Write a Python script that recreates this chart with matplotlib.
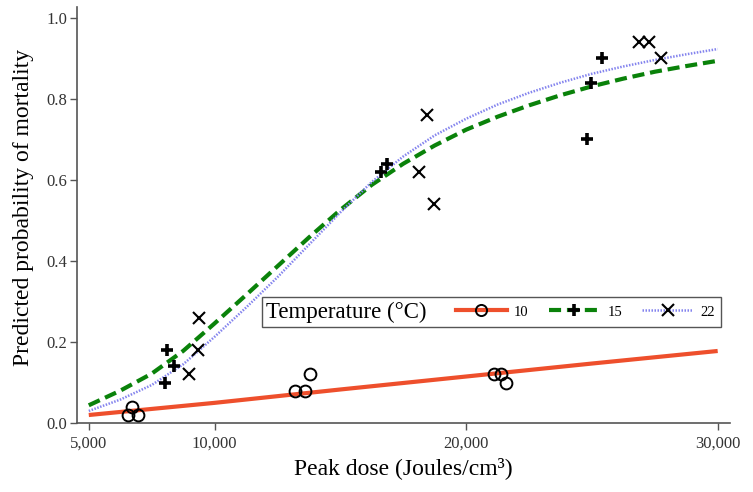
import numpy as np
import matplotlib
matplotlib.use('Agg')
import matplotlib.pyplot as plt
from matplotlib.lines import Line2D
from matplotlib.patches import Rectangle

plt.rcParams['font.family'] = ['Liberation Serif', 'DejaVu Serif']

# observed mortality points per temperature
dose_10 = [6550, 6700, 6950, 13200, 13600, 13800, 21100, 21400, 21600]
mort_10 = [0.02, 0.04, 0.02, 0.08, 0.08, 0.12, 0.12, 0.12, 0.10]
dose_15 = [8020, 8100, 8370, 16620, 16860, 24800, 24960, 25400]
mort_15 = [0.10, 0.18, 0.14, 0.62, 0.64, 0.70, 0.84, 0.90]
dose_22 = [9000, 9360, 9400, 18130, 18450, 18730, 26870, 27260, 27750]
mort_22 = [0.12, 0.18, 0.26, 0.62, 0.76, 0.54, 0.94, 0.94, 0.90]

# predicted curves
fit_dose_10 = [5000, 10000, 15000, 20000, 25000, 30000]
fit_10 = [0.020, 0.050, 0.083, 0.115, 0.147, 0.178]
fit_dose = [5000, 6250, 7500, 8750, 10000, 11250, 12500, 13750, 15000, 16250,
            17500, 18750, 20000, 21250, 22500, 23750, 25000, 26250, 27500,
            28750, 30000]
fit_15 = [0.044, 0.080, 0.122, 0.178, 0.246, 0.316, 0.387, 0.458, 0.526, 0.588,
          0.640, 0.685, 0.724, 0.756, 0.784, 0.809, 0.831, 0.850, 0.867,
          0.881, 0.894]
fit_22 = [0.030, 0.058, 0.094, 0.145, 0.213, 0.285, 0.360, 0.440, 0.520, 0.595,
          0.658, 0.710, 0.751, 0.786, 0.815, 0.840, 0.862, 0.880, 0.896,
          0.910, 0.923]

x_ticks = [5000, 10000, 20000, 30000]
x_ticklabels = ['5,000', '10,000', '20,000', '30,000']
y_ticks = [0.0, 0.2, 0.4, 0.6, 0.8, 1.0]

red = '#ee4f2c'
green = '#0a820a'
blue = '#8484ee'
dash_15 = (0, (2.9, 1.4))
dot_22 = (0, (0.6, 0.6))

fig = plt.figure(figsize=(7.53, 4.92), dpi=100)
ax = fig.add_axes([0.102, 0.140, 0.867, 0.846])

ax.plot(fit_dose_10, fit_10, color=red, lw=3.0, solid_capstyle='butt', zorder=2)
ax.plot(fit_dose, fit_15, color=green, lw=3.0, linestyle=dash_15, zorder=2)
ax.plot(fit_dose, fit_22, color=blue, lw=1.8, linestyle=dot_22, zorder=2)

ax.plot(dose_10, mort_10, 'o', mfc='none', mec='black', ms=8.5, mew=1.4, zorder=3)
ax.plot(dose_15, mort_15, '+', mec='black', ms=9, mew=2.6, zorder=3)
ax.plot(dose_22, mort_22, 'x', mec='black', ms=8.5, mew=1.5, zorder=3)

ax.set_xlim(4524, 30476)
ax.set_ylim(0, 1.027)
ax.set_xticks(x_ticks)
ax.set_xticklabels(x_ticklabels)
ax.set_yticks(y_ticks)
ax.set_yticklabels(['%.1f' % v for v in y_ticks])

for side in ['top', 'right']:
    ax.spines[side].set_visible(False)
for side in ['left', 'bottom']:
    ax.spines[side].set_color('#555555')
    ax.spines[side].set_linewidth(1.2)
ax.tick_params(direction='out', length=5, width=1.0, color='#555555',
               labelsize=12, labelcolor='#333333')
ax.tick_params(axis='y', pad=2)
ax.tick_params(axis='x', pad=4)

ax.set_xlabel('Peak dose (Joules/cm\u00b3)', fontsize=17, labelpad=4)
ax.set_ylabel('Predicted probability of mortality', fontsize=17)
ax.yaxis.set_label_coords(-0.066, 0.517)

# legend with inline title and frame
handles = [
    Line2D([], [], color=red, lw=3.0, marker='o', mfc='none', mec='black', ms=8, mew=1.4),
    Line2D([], [], color=green, lw=3.0, linestyle=dash_15, marker='+',
           mec='black', ms=9, mew=2.6),
    Line2D([], [], color=blue, lw=1.8, linestyle=dot_22, marker='x',
           mec='black', ms=8.5, mew=1.5),
]
ax.legend(handles, ['10', '15', '22'], ncol=3, loc='center left',
          bbox_to_anchor=(0.56, 0.267), frameon=False, fontsize=10.5,
          handlelength=3.5, handletextpad=0.5, columnspacing=1.4, numpoints=1)
ax.text(0.290, 0.265, 'Temperature (\u00b0C)', transform=ax.transAxes,
        fontsize=16.5, va='center', ha='left')
ax.add_patch(Rectangle((0.283, 0.231), 0.703, 0.072, transform=ax.transAxes,
                       fill=False, edgecolor='#555555', lw=1.0, zorder=4))

fig.savefig('out.png', dpi=100)
